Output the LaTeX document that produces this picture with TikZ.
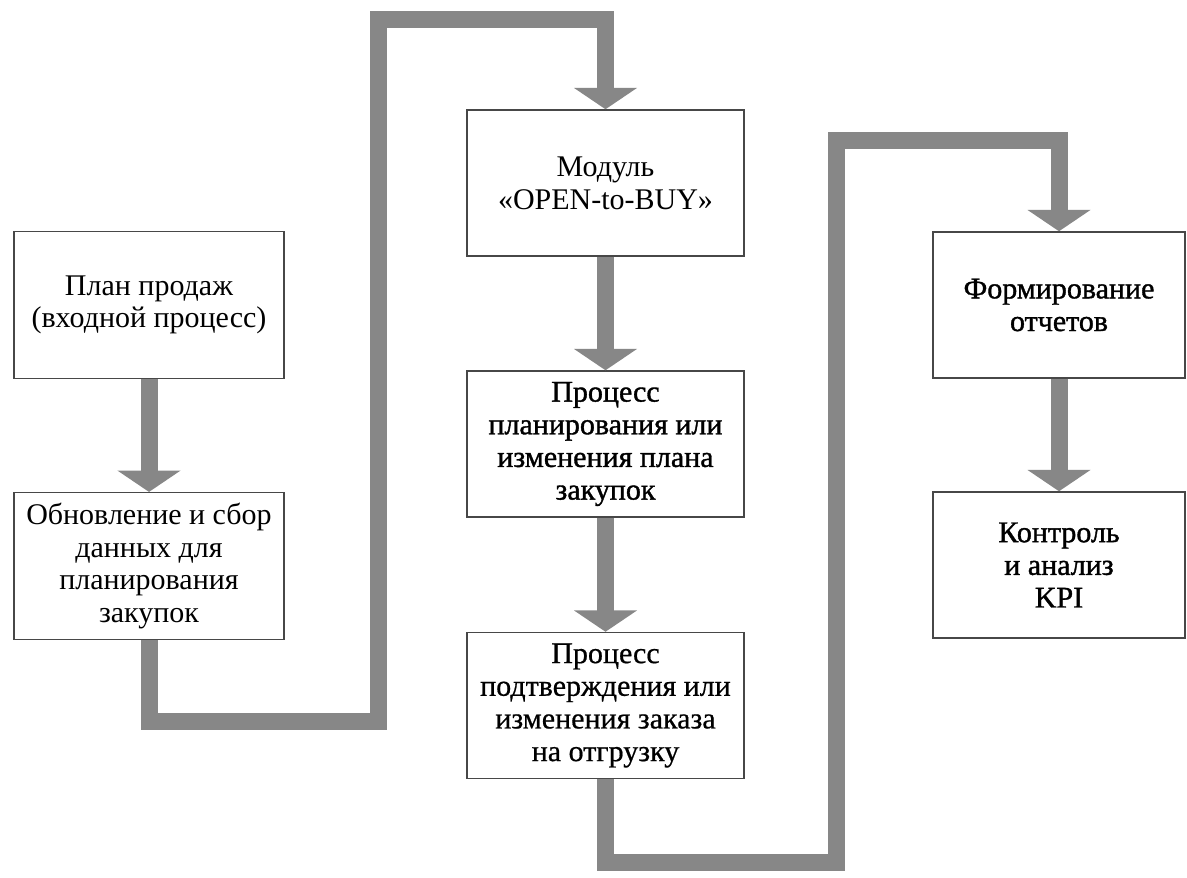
\documentclass[tikz,border=0pt]{standalone}
\usepackage{fontspec}
\setmainfont{Liberation Serif}
\newfontfamily\heavyfont[FakeBold=1.2]{Liberation Serif}
\newfontfamily\midfont[FakeBold=0.6]{Liberation Serif}
\usetikzlibrary{arrows.meta}
\begin{document}
\begin{tikzpicture}[x=0.75pt,y=-0.75pt,
  box/.style={draw=black!72,line width=1.1pt,fill=white,align=center,inner sep=0pt,
    font=\fontsize{22.5}{24.5}\selectfont},
  wbox/.style={box,minimum width=202.5pt,minimum height=110pt},
  mbox/.style={box,minimum width=207.75pt,minimum height=109.5pt},
  rbox/.style={box,minimum width=189pt,minimum height=109.5pt},
  flow/.style={draw=black!47,line width=12.75pt,line join=miter,
    -{Triangle[width=46.5pt,length=16pt]}}
]
\fill[white] (0,0) rectangle (1187,877);
\useasboundingbox (0,0) rectangle (1187,877);

% boxes
\node[wbox] (b1) at (149,305) {План продаж\\(входной процесс)};
\node[wbox] (b2) at (149,566) {Обновление и сбор\\данных для\\планирования\\закупок};
\node[mbox] (m1) at (605.5,183) {Модуль\\«OPEN-to-BUY»};
\node[mbox] (m2) at (605.5,444) {\heavyfont Процесс\\\heavyfont планирования или\\\heavyfont изменения плана\\\heavyfont закупок};
\node[mbox] (m3) at (605.5,705.5) {\midfont Процесс\\\midfont подтверждения или\\\midfont изменения заказа\\\midfont на отгрузку};
\node[rbox] (r1) at (1059,305) {\heavyfont Формирование\\\heavyfont отчетов};
\node[rbox] (r2) at (1059,565) {\heavyfont Контроль\\\heavyfont и анализ\\\heavyfont KPI};

% corner points of the long connectors
\coordinate (c1a) at (378,721);
\coordinate (c1b) at (378,20);
\coordinate (c2a) at (836.5,862.5);
\coordinate (c2b) at (836.5,140.5);

% connectors
\draw[flow] (b1.south) -- (b2.north);
\draw[flow] (b2.south) |- (c1a) -- (c1b) -| (m1.north);
\draw[flow] (m1.south) -- (m2.north);
\draw[flow] (m2.south) -- (m3.north);
\draw[flow] (m3.south) |- (c2a) -- (c2b) -| (r1.north);
\draw[flow] (r1.south) -- (r2.north);
\end{tikzpicture}
\end{document}
